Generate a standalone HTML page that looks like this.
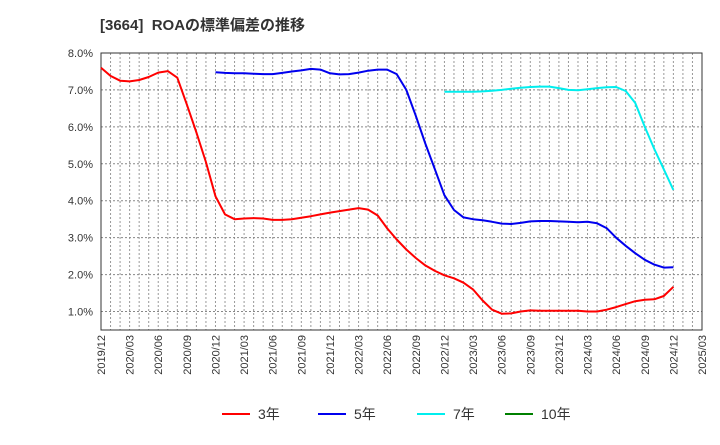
<!DOCTYPE html>
<html><head><meta charset="utf-8"><style>
body{margin:0;background:#fff;font-family:"Liberation Sans","Noto Sans CJK JP",sans-serif;}
svg text{font-family:"Liberation Sans","Noto Sans CJK JP",sans-serif;}
</style></head><body>
<svg id="c" width="720" height="440"></svg>
<script>
const yTicks=[1,2,3,4,5,6,7,8];
const xLabels=["2019/12","2020/03","2020/06","2020/09","2020/12","2021/03","2021/06","2021/09","2021/12","2022/03","2022/06","2022/09","2022/12","2023/03","2023/06","2023/09","2023/12","2024/03","2024/06","2024/09","2024/12","2025/03"];
const s3=[7.6,7.38,7.25,7.23,7.27,7.35,7.47,7.51,7.33,6.6,5.85,5.05,4.12,3.63,3.5,3.52,3.53,3.52,3.48,3.48,3.5,3.54,3.58,3.63,3.68,3.72,3.76,3.8,3.76,3.6,3.25,2.95,2.68,2.45,2.25,2.1,1.98,1.9,1.78,1.6,1.3,1.05,0.94,0.95,1.0,1.03,1.02,1.02,1.02,1.02,1.02,1.0,1.0,1.05,1.12,1.2,1.28,1.32,1.33,1.42,1.67];
const s5=[null,null,null,null,null,null,null,null,null,null,null,null,7.48,7.46,7.45,7.45,7.44,7.43,7.43,7.46,7.5,7.53,7.57,7.55,7.45,7.42,7.43,7.47,7.52,7.55,7.55,7.43,7.0,6.3,5.55,4.85,4.15,3.75,3.55,3.5,3.47,3.43,3.38,3.37,3.4,3.44,3.45,3.45,3.44,3.43,3.42,3.43,3.39,3.26,3.0,2.78,2.58,2.4,2.27,2.19,2.2];
const s7=[null,null,null,null,null,null,null,null,null,null,null,null,null,null,null,null,null,null,null,null,null,null,null,null,null,null,null,null,null,null,null,null,null,null,null,null,6.95,6.95,6.95,6.95,6.96,6.98,7.0,7.03,7.06,7.08,7.09,7.09,7.05,7.0,6.99,7.02,7.05,7.07,7.08,6.97,6.65,6.0,5.4,4.85,4.29];
const s10=[];
const L=101,R=702,T=53,B=330,ymin=0.5,ymax=8,nMonths=63;
const X=i=>L+i*(R-L)/nMonths;
const Y=v=>T+(ymax-v)*(B-T)/(ymax-ymin);
const svg=document.getElementById('c');const NS='http://www.w3.org/2000/svg';
function mk(t,a,p){const e=document.createElementNS(NS,t);for(const k in a)e.setAttribute(k,a[k]);(p||svg).appendChild(e);return e;}
let e=mk('text',{x:100,y:30,'font-size':15,'font-weight':'bold',fill:'#333'});e.textContent='[3664]\u00a0\u00a0ROAの標準偏差の推移';


for(let i=1;i<nMonths;i++){e=mk('line',{x1:X(i),x2:X(i),y1:T,y2:B,stroke:'#999','stroke-dasharray':'2,2','stroke-width':1});

}
yTicks.forEach(v=>{e=mk('line',{x1:L,x2:R,y1:Y(v),y2:Y(v),stroke:'#888','stroke-dasharray':'2,2'});


e=mk('text',{x:93,y:Y(v)+4,'font-size':11,'text-anchor':'end',fill:'#333'});e.textContent=v.toFixed(1)+'%';

});
xLabels.forEach((s,k)=>{const x=X(k*3);e=mk('text',{x:0,y:0,'font-size':11,'text-anchor':'end',fill:'#333',transform:`translate(${x+4},${B+5}) rotate(-90)`});e.textContent=s;

});
e=mk('rect',{x:L,y:T,width:R-L,height:B-T,fill:'none',stroke:'#333','stroke-width':1});


function line(data,color,name){let d='';let pen=false;data.forEach((v,i)=>{if(v==null){pen=false;return;}d+=(pen?'L':'M')+X(i).toFixed(1)+','+Y(v).toFixed(1);pen=true;});
if(!d)return;const p=mk('path',{d:d,fill:'none',stroke:color,'stroke-width':2,'stroke-linejoin':'round'});

}
line(s3,'#ff0000','series-3y');line(s5,'#0000ee','series-5y');line(s7,'#00eeee','series-7y');line(s10,'#008000','series-10y');
const leg=[['3年','#ff0000',222],['5年','#0000ee',318],['7年','#00eeee',417],['10年','#008000',505]];
leg.forEach(([t,c,x])=>{const g=mk('g',{});


mk('line',{x1:x,x2:x+28,y1:414,y2:414,stroke:c,'stroke-width':2},g);
const tx=mk('text',{x:x+36,y:419,'font-size':14,fill:'#333'},g);tx.textContent=t;});
</script>
</body></html>
